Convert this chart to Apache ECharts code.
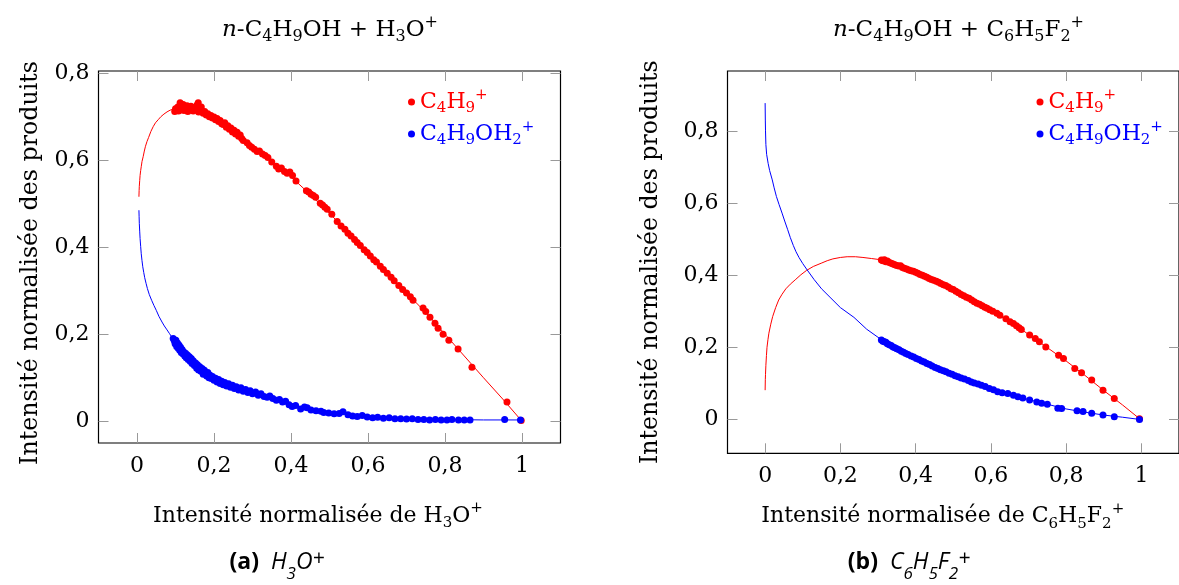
<!DOCTYPE html>
<html><head><meta charset="utf-8">
<script src="https://cdn.jsdelivr.net/npm/echarts@6/dist/echarts.min.js"></script>
<style>html,body{margin:0;padding:0;background:#fff}#c{width:1179px;height:585px}</style>
</head><body><div id="c"></div>
<script>
// ---------- data ----------
const xTicks = [0, 0.2, 0.4, 0.6, 0.8, 1];
const yTicks = [0, 0.2, 0.4, 0.6, 0.8];
const seriesNames = ['C4H9+', 'C4H9OH2+'];

// (a) H3O+ : C4H9+ measured points
const aRedPts = [
 [0.098,0.712],[0.100,0.718],[0.103,0.715],[0.106,0.722],[0.108,0.713],[0.111,0.720],[0.112,0.732],[0.113,0.726],[0.115,0.716],
 [0.118,0.721],[0.120,0.728],[0.122,0.714],[0.125,0.723],[0.127,0.719],[0.130,0.725],[0.132,0.712],[0.135,0.720],[0.138,0.716],
 [0.140,0.724],[0.143,0.718],[0.146,0.713],[0.149,0.721],[0.152,0.717],[0.156,0.727],[0.159,0.732],[0.160,0.711],[0.163,0.716],
 [0.167,0.722],[0.172,0.708],[0.176,0.712],[0.180,0.704],[0.184,0.707],[0.188,0.700],[0.192,0.703],[0.196,0.697],[0.200,0.699],
 [0.204,0.693],[0.208,0.696],[0.212,0.689],[0.216,0.691],[0.220,0.684],[0.224,0.682],[0.228,0.686],[0.232,0.676],[0.236,0.679],
 [0.240,0.671],[0.244,0.674],[0.248,0.665],[0.252,0.669],[0.256,0.660],[0.260,0.664],[0.264,0.655],[0.268,0.658],[0.272,0.650],
 [0.276,0.645],[0.286,0.640],[0.292,0.634],[0.298,0.630],[0.305,0.625],[0.312,0.620],[0.318,0.621],[0.326,0.614],[0.333,0.611],
 [0.340,0.606],[0.350,0.596],[0.362,0.586],[0.368,0.580],[0.375,0.582],[0.383,0.574],[0.390,0.570],[0.397,0.573],[0.404,0.565],
 [0.413,0.552],[0.440,0.530],[0.446,0.527],[0.452,0.522],[0.458,0.519],[0.464,0.515],[0.476,0.501],[0.482,0.497],[0.488,0.492],
 [0.494,0.487],[0.506,0.476],[0.520,0.459],[0.530,0.449],[0.540,0.441],[0.548,0.432],[0.556,0.426],[0.565,0.418],[0.572,0.411],
 [0.580,0.404],[0.590,0.394],[0.598,0.388],[0.606,0.380],[0.615,0.371],[0.622,0.366],[0.632,0.356],[0.640,0.349],[0.650,0.340],
 [0.660,0.331],[0.668,0.323],[0.680,0.312],[0.690,0.303],[0.700,0.295],[0.710,0.286],[0.717,0.278],[0.743,0.260],[0.750,0.252],
 [0.761,0.239],[0.774,0.225],[0.782,0.214],[0.795,0.200],[0.810,0.186],[0.834,0.166],[0.870,0.124],[0.961,0.044],[0.998,0.002]
];
// (a) C4H9OH2+ measured points
const aBluePts = [
 [0.094,0.190],[0.097,0.185],[0.099,0.178],[0.101,0.186],[0.103,0.172],[0.105,0.180],[0.107,0.168],[0.109,0.175],[0.111,0.163],
 [0.113,0.170],[0.115,0.158],[0.117,0.165],[0.119,0.155],[0.121,0.160],[0.124,0.150],[0.126,0.156],[0.128,0.146],[0.131,0.152],
 [0.133,0.142],[0.136,0.148],[0.138,0.138],[0.141,0.144],[0.143,0.133],[0.146,0.139],[0.149,0.128],[0.152,0.134],[0.155,0.122],
 [0.157,0.130],[0.160,0.118],[0.163,0.125],[0.166,0.115],[0.169,0.121],[0.172,0.108],[0.175,0.117],[0.178,0.110],[0.181,0.104],
 [0.184,0.112],[0.187,0.100],[0.190,0.106],[0.193,0.098],[0.196,0.103],[0.200,0.094],[0.204,0.099],[0.208,0.090],[0.212,0.096],
 [0.216,0.087],[0.220,0.092],[0.224,0.084],[0.228,0.089],[0.233,0.081],[0.238,0.086],[0.243,0.078],[0.248,0.083],[0.253,0.075],
 [0.258,0.079],[0.264,0.072],[0.270,0.077],[0.276,0.069],[0.282,0.073],[0.288,0.066],[0.294,0.070],[0.300,0.063],[0.308,0.067],
 [0.315,0.060],[0.322,0.063],[0.330,0.057],[0.338,0.055],[0.345,0.058],[0.353,0.052],[0.362,0.048],[0.370,0.050],[0.378,0.044],
 [0.386,0.046],[0.395,0.038],[0.403,0.034],[0.412,0.036],[0.425,0.028],[0.435,0.033],[0.442,0.031],[0.452,0.026],[0.465,0.024],
 [0.478,0.023],[0.485,0.020],[0.498,0.019],[0.512,0.017],[0.525,0.018],[0.535,0.022],[0.548,0.015],[0.560,0.012],[0.572,0.011],
 [0.585,0.013],[0.598,0.010],[0.612,0.008],[0.625,0.009],[0.640,0.007],[0.655,0.008],[0.670,0.006],[0.685,0.006],[0.700,0.005],
 [0.715,0.006],[0.730,0.004],[0.745,0.004],[0.760,0.003],[0.775,0.004],[0.790,0.003],[0.805,0.003],[0.818,0.004],[0.835,0.003],
 [0.850,0.003],[0.865,0.003],[0.955,0.004],[0.996,0.003]
];
// (a) fitted curves
const aRedFit = [
 [0.005,0.516],[0.0055,0.530],[0.006,0.540],[0.007,0.553],[0.008,0.565],[0.0095,0.576],[0.011,0.585],[0.013,0.597],[0.016,0.608],
 [0.019,0.621],[0.022,0.632],[0.026,0.643],[0.030,0.652],[0.036,0.666],[0.042,0.677],[0.048,0.686],[0.055,0.693],[0.062,0.700],
 [0.070,0.706],[0.078,0.711],[0.086,0.715],[0.093,0.717],[0.100,0.719],[0.110,0.721],[0.120,0.722],[0.135,0.721],[0.150,0.719],
 [0.175,0.710],[0.200,0.699],[0.250,0.666],[0.300,0.631],[0.350,0.596],[0.400,0.562],[0.450,0.521],[0.500,0.478],[0.550,0.432],
 [0.600,0.387],[0.650,0.341],[0.700,0.295],[0.750,0.250],[0.800,0.200],[0.850,0.150],[0.900,0.100],[0.950,0.051],[0.998,0.002]
];
const aBlueFit = [
 [0.005,0.485],[0.0055,0.470],[0.006,0.455],[0.007,0.437],[0.008,0.420],[0.0095,0.402],[0.011,0.385],[0.013,0.369],[0.015,0.355],
 [0.0175,0.342],[0.020,0.330],[0.0235,0.317],[0.027,0.305],[0.032,0.291],[0.038,0.278],[0.044,0.266],[0.050,0.255],[0.057,0.241],
 [0.065,0.228],[0.071,0.219],[0.078,0.210],[0.084,0.202],[0.090,0.194],[0.100,0.182],[0.110,0.170],[0.120,0.158],[0.135,0.144],
 [0.150,0.132],[0.175,0.115],[0.200,0.100],[0.250,0.079],[0.300,0.062],[0.350,0.048],[0.400,0.037],[0.450,0.029],[0.500,0.022],
 [0.550,0.016],[0.600,0.012],[0.700,0.007],[0.800,0.004],[0.900,0.003],[0.996,0.003]
];

// (b) C6H5F2+ : measured points
const bRedPts = [
 [0.309,0.442],[0.313,0.440],[0.317,0.443],[0.321,0.437],[0.325,0.439],[0.330,0.435],[0.335,0.433],[0.340,0.431],[0.345,0.429],
 [0.350,0.427],[0.355,0.425],[0.360,0.426],[0.365,0.421],[0.370,0.419],[0.376,0.417],[0.382,0.414],[0.388,0.412],[0.394,0.411],
 [0.400,0.408],[0.406,0.405],[0.412,0.402],[0.418,0.400],[0.424,0.397],[0.430,0.394],[0.436,0.391],[0.442,0.388],[0.448,0.386],
 [0.455,0.383],[0.461,0.380],[0.467,0.377],[0.474,0.373],[0.480,0.371],[0.487,0.367],[0.494,0.362],[0.500,0.360],[0.507,0.355],
 [0.514,0.351],[0.521,0.346],[0.528,0.343],[0.535,0.339],[0.542,0.336],[0.549,0.331],[0.556,0.326],[0.563,0.322],[0.570,0.319],
 [0.577,0.315],[0.584,0.311],[0.590,0.308],[0.597,0.304],[0.605,0.300],[0.616,0.294],[0.624,0.289],[0.640,0.279],[0.651,0.271],
 [0.660,0.266],[0.668,0.260],[0.675,0.254],[0.681,0.249],[0.703,0.234],[0.718,0.224],[0.729,0.215],[0.746,0.201],[0.780,0.178],
 [0.793,0.169],[0.823,0.141],[0.841,0.129],[0.868,0.109],[0.898,0.081],[0.928,0.058],[0.995,0.002]
];
const bBluePts = [
 [0.309,0.220],[0.313,0.217],[0.317,0.215],[0.321,0.214],[0.325,0.210],[0.330,0.207],[0.335,0.205],[0.340,0.201],[0.345,0.199],
 [0.350,0.196],[0.356,0.193],[0.362,0.189],[0.368,0.186],[0.374,0.183],[0.380,0.180],[0.388,0.176],[0.395,0.173],[0.402,0.169],
 [0.409,0.166],[0.416,0.162],[0.423,0.159],[0.430,0.155],[0.437,0.152],[0.444,0.148],[0.452,0.144],[0.459,0.141],[0.466,0.138],
 [0.474,0.135],[0.481,0.132],[0.489,0.128],[0.497,0.125],[0.505,0.121],[0.513,0.118],[0.521,0.115],[0.530,0.112],[0.540,0.108],
 [0.548,0.104],[0.556,0.101],[0.566,0.098],[0.575,0.095],[0.585,0.091],[0.596,0.086],[0.607,0.082],[0.618,0.077],[0.630,0.074],
 [0.645,0.072],[0.660,0.067],[0.672,0.063],[0.685,0.059],[0.703,0.054],[0.722,0.048],[0.735,0.045],[0.750,0.042],[0.778,0.031],
 [0.788,0.030],[0.829,0.024],[0.845,0.022],[0.868,0.017],[0.898,0.012],[0.928,0.007],[0.995,0.000]
];
const bRedFit = [
 [0.000,0.081],[0.0005,0.110],[0.001,0.125],[0.002,0.150],[0.0035,0.177],[0.005,0.200],[0.0075,0.221],[0.010,0.239],[0.015,0.264],
 [0.020,0.285],[0.028,0.310],[0.036,0.331],[0.045,0.347],[0.055,0.362],[0.067,0.375],[0.080,0.387],[0.095,0.401],[0.110,0.413],
 [0.128,0.424],[0.149,0.433],[0.165,0.440],[0.180,0.445],[0.200,0.449],[0.218,0.451],[0.240,0.451],[0.260,0.449],[0.283,0.446],
 [0.305,0.443],[0.350,0.428],[0.400,0.409],[0.450,0.386],[0.500,0.360],[0.550,0.331],[0.600,0.302],[0.650,0.271],[0.700,0.236],
 [0.750,0.199],[0.800,0.162],[0.850,0.122],[0.900,0.080],[0.950,0.040],[0.995,0.002]
];
const bBlueFit = [
 [0.000,0.877],[0.0005,0.830],[0.001,0.800],[0.002,0.762],[0.004,0.735],[0.008,0.710],[0.012,0.690],[0.019,0.664],[0.024,0.642],
 [0.030,0.618],[0.037,0.596],[0.045,0.572],[0.052,0.550],[0.060,0.526],[0.067,0.504],[0.075,0.482],[0.082,0.465],[0.090,0.449],
 [0.100,0.432],[0.110,0.417],[0.130,0.388],[0.150,0.362],[0.175,0.336],[0.200,0.310],[0.236,0.283],[0.270,0.250],[0.305,0.224],
 [0.350,0.196],[0.400,0.170],[0.450,0.145],[0.500,0.124],[0.550,0.103],[0.600,0.084],[0.650,0.070],[0.700,0.055],[0.750,0.042],
 [0.800,0.029],[0.850,0.020],[0.900,0.012],[0.950,0.006],[0.995,0.000]
];

// ---------- styling ----------
const SERIF = "'DejaVu Serif', serif";
const SANS = "'Open Sans', sans-serif";
const RED = '#ff0000', BLUE = '#0000ff';
const FS = 22, FSS = 15;
const fmt = v => (v === 0 ? '0' : v === 1 ? '1' : String(Math.round(v * 10) / 10).replace('.', ','));
const richSerif = (color, fs, fss) => ({
  n: { fontStyle: 'italic', fontFamily: SERIF, fontSize: fs, color, lineHeight: 30 },
  t: { fontFamily: SERIF, fontSize: fs, color, lineHeight: 30 },
  s: { fontFamily: SERIF, fontSize: fss, color, lineHeight: 15, verticalAlign: 'bottom' },
  p: { fontFamily: SERIF, fontSize: fss, color, lineHeight: 17, verticalAlign: 'top' }
});
const tickStyle = { inside: true, length: 10, lineStyle: { color: '#999', width: 1 } };

const grids = [
  { left: 98.5, top: 71, width: 462, height: 372 },
  { left: 727.5, top: 71, width: 462, height: 382.3 }
];
const yRanges = [[-0.05, 0.805], [-0.094, 0.966]];
const xNames = [
  '{t|Intensité normalisée de H}{s|3}{t|O}{p|+}',
  '{t|Intensité normalisée de C}{s|6}{t|H}{s|5}{t|F}{s|2}{p|+}'
];
const xNameGaps = [58, 48];
const xNamePad = [[0, 23, 0, 0], [0, 21, 0, 0]];
const yNameGaps = [56, 65];
const yNamePad = [[0, 12, 0, 0], [0, 0, 0, 0]];

const xAxes = [], yAxes = [];
grids.forEach((g, i) => {
  xAxes.push({
    gridIndex: i, type: 'value', min: -0.1, max: 1.1, position: 'bottom',
    axisLine: { show: false, onZero: false }, splitLine: { show: false },
    axisTick: Object.assign({ customValues: xTicks }, tickStyle),
    axisLabel: { customValues: xTicks, formatter: fmt, fontFamily: SERIF, fontSize: FS, color: '#000', margin: 12 },
    name: xNames[i], nameLocation: 'middle', nameGap: xNameGaps[i],
    nameTextStyle: { fontFamily: SERIF, fontSize: FS, color: '#000', lineHeight: 30, padding: xNamePad[i], rich: richSerif('#000', FS, FSS) }
  });
  xAxes.push({
    gridIndex: i, type: 'value', min: -0.1, max: 1.1, position: 'top',
    axisLine: { show: false, onZero: false }, splitLine: { show: false }, axisLabel: { show: false },
    axisTick: Object.assign({ customValues: xTicks }, tickStyle)
  });
  yAxes.push({
    gridIndex: i, type: 'value', min: yRanges[i][0], max: yRanges[i][1], position: 'left',
    axisLine: { show: false, onZero: false }, splitLine: { show: false },
    axisTick: Object.assign({ customValues: yTicks }, tickStyle),
    axisLabel: { customValues: yTicks, formatter: fmt, fontFamily: SERIF, fontSize: FS, color: '#000', margin: 9 },
    name: 'Intensité normalisée des produits', nameLocation: 'middle', nameGap: yNameGaps[i],
    nameTextStyle: { fontFamily: SERIF, fontSize: 23.7, color: '#000', padding: yNamePad[i] }
  });
  yAxes.push({
    gridIndex: i, type: 'value', min: yRanges[i][0], max: yRanges[i][1], position: 'right',
    axisLine: { show: false, onZero: false }, splitLine: { show: false }, axisLabel: { show: false },
    axisTick: Object.assign({ customValues: yTicks }, tickStyle)
  });
});

function scatter(name, data, color, gi) {
  return { type: 'scatter', name, data, xAxisIndex: gi * 2, yAxisIndex: gi * 2,
    symbol: 'circle', symbolSize: 7, itemStyle: { color, opacity: 1 }, z: 4, silent: true };
}
function fit(name, data, color, gi) {
  return { type: 'line', name, data, xAxisIndex: gi * 2, yAxisIndex: gi * 2,
    showSymbol: false, symbol: 'none', smooth: false,
    lineStyle: { color, width: 1 }, itemStyle: { color }, z: 2, silent: true };
}

const legendRich = {
  r: { fontFamily: SERIF, fontSize: FS, color: RED, lineHeight: 28 },
  rs: { fontFamily: SERIF, fontSize: FSS, color: RED, lineHeight: 15, verticalAlign: 'bottom' },
  rp: { fontFamily: SERIF, fontSize: FSS, color: RED, lineHeight: 17, verticalAlign: 'top' },
  b: { fontFamily: SERIF, fontSize: FS, color: BLUE, lineHeight: 28 },
  bs: { fontFamily: SERIF, fontSize: FSS, color: BLUE, lineHeight: 15, verticalAlign: 'bottom' },
  bp: { fontFamily: SERIF, fontSize: FSS, color: BLUE, lineHeight: 17, verticalAlign: 'top' }
};
const legendFmt = name => name === seriesNames[0]
  ? '{r|C}{rs|4}{r|H}{rs|9}{rp|+}'
  : '{b|C}{bs|4}{b|H}{bs|9}{b|OH}{bs|2}{bp|+}';
const mkLegend = (left) => ({
  data: seriesNames, orient: 'vertical', left, top: 88, padding: 0, itemGap: 4,
  icon: 'circle', itemWidth: 7, itemHeight: 7, selectedMode: false,
  formatter: legendFmt, textStyle: { rich: legendRich }
});

const capRich = {
  b: { fontFamily: SANS, fontWeight: 'bold', fontSize: 23, color: '#000', lineHeight: 42 },
  i: { fontFamily: SANS, fontStyle: 'italic', fontSize: 23, color: '#000', lineHeight: 42 },
  is: { fontFamily: SANS, fontStyle: 'italic', fontSize: 17, color: '#000', lineHeight: 13, verticalAlign: 'bottom' },
  ip: { fontFamily: SANS, fontStyle: 'italic', fontSize: 21, color: '#000', lineHeight: 42, verticalAlign: 'middle', padding: [0, 0, 6, 0] }
};

const option = {
  animation: false,
  backgroundColor: '#fff',
  grid: grids.map(g => Object.assign({ show: true, borderColor: '#000', borderWidth: 1.2, backgroundColor: 'transparent' }, g)),
  xAxis: xAxes,
  yAxis: yAxes,
  legend: [mkLegend(408), mkLegend(1036.5)],
  series: [
    fit('fitA1', aRedFit, RED, 0), fit('fitA2', aBlueFit, BLUE, 0),
    scatter(seriesNames[0], aRedPts, RED, 0), scatter(seriesNames[1], aBluePts, BLUE, 0),
    fit('fitB1', bRedFit, RED, 1), fit('fitB2', bBlueFit, BLUE, 1),
    scatter(seriesNames[0], bRedPts, RED, 1), scatter(seriesNames[1], bBluePts, BLUE, 1)
  ],
  graphic: [
    { type: 'text', x: 330, y: 30, style: { text: '{n|n}{t|-C}{s|4}{t|H}{s|9}{t|OH + H}{s|3}{t|O}{p|+}', align: 'center', verticalAlign: 'middle', rich: richSerif('#000', 23, 16) } },
    { type: 'text', x: 958.5, y: 30, style: { text: '{n|n}{t|-C}{s|4}{t|H}{s|9}{t|OH + C}{s|6}{t|H}{s|5}{t|F}{s|2}{p|+}', align: 'center', verticalAlign: 'middle', rich: richSerif('#000', 23, 16) } },
    { type: 'text', x: 277, y: 562, style: { text: '{b|(a)}{i|  H}{is|3}{i|O}{ip|+}', align: 'center', verticalAlign: 'middle', rich: capRich } },
    { type: 'text', x: 909, y: 562, style: { text: '{b|(b)}{i|  C}{is|6}{i|H}{is|5}{i|F}{is|2}{ip|+}', align: 'center', verticalAlign: 'middle', rich: capRich } }
  ]
};

const chart = echarts.init(document.getElementById('c'), null, { renderer: 'canvas' });
chart.setOption(option);
</script>
</body></html>
